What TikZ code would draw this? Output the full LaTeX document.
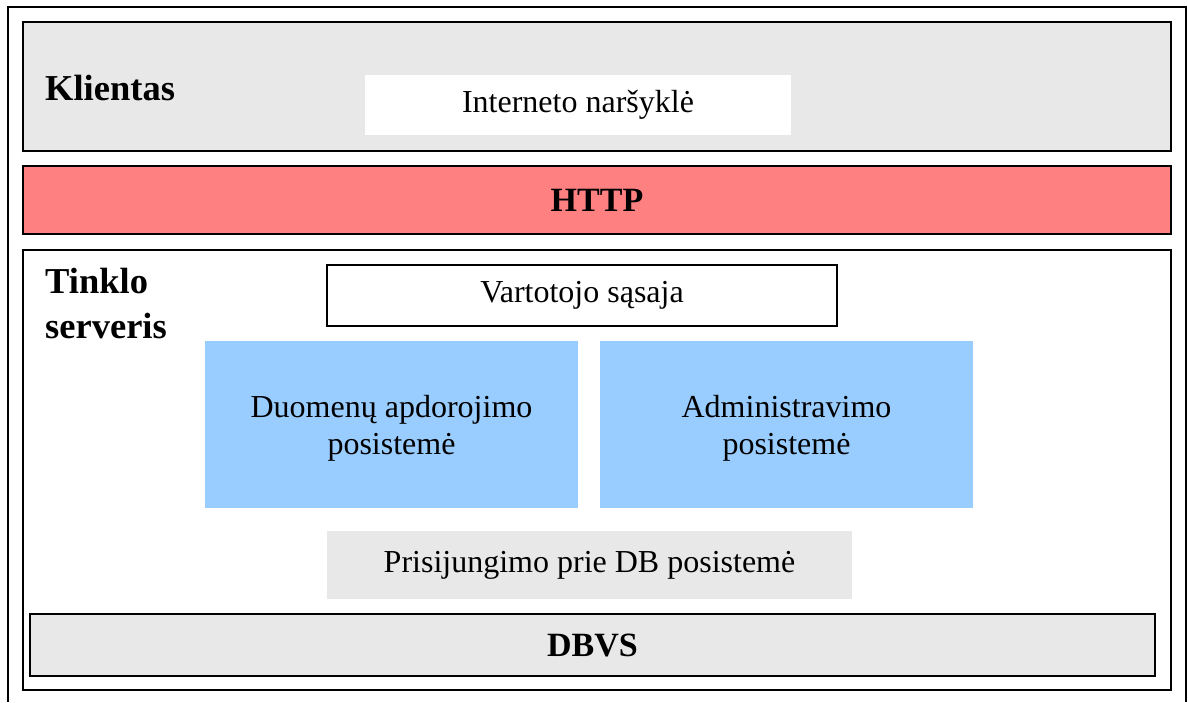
\documentclass[tikz,border=0pt]{standalone}
\usepackage{fontspec}
\setmainfont{Liberation Serif}
\usepackage{tikz}
\definecolor{layer_grey}{RGB}{232, 232, 232}
\definecolor{http_red}{RGB}{255, 128, 128}
\definecolor{sub_blue}{RGB}{153, 204, 255}
\tikzstyle{layer}=[rectangle,fill=layer_grey,draw=black,
  line width=1.5pt,inner sep=0pt,font=\fontsize{34}{40}\selectfont\bfseries]
\tikzstyle{part}=[rectangle,inner sep=0pt,align=center,
  font=\fontsize{32}{37}\selectfont]
\tikzstyle{title}=[inner sep=0pt,align=left,
  font=\fontsize{36.5}{45}\selectfont\bfseries]
\tikzstyle{frame}=[line width=1.5pt,draw=black]
\tikzstyle{none}=[]

\begin{document}
\begin{tikzpicture}[x=1pt, y=-1pt]
        \useasboundingbox (0, 0) rectangle (1188, 702);
        \draw [style=frame] (8, 702) -- (8, 7) -- (1186, 7) -- (1186, 702);
        \node [style=layer, minimum width=1148pt, minimum height=129pt] (klientas) at (597, 86.5) {};
        \node [style=layer, fill=http_red, minimum width=1148pt, minimum height=68pt] (http) at (597, 200) {HTTP};
        \node [style=layer, fill=white, minimum width=1148pt, minimum height=440pt] (serveris) at (597, 470) {};
        \node [style=title, anchor=base west] (klientas_t) at (45, 100) {Klientas};
        \node [style=title, anchor=base west] (serveris_t) at (45, 338) {Tinklo\\serveris};
        \node [style=part, fill=white, minimum width=426pt, minimum height=60pt] (narsykle) at (578, 105) {Interneto naršyklė};
        \node [style=part, fill=white, draw=black, line width=1.5pt, minimum width=510pt, minimum height=61pt] (sasaja) at (582, 295.5) {Vartotojo sąsaja};
        \node [style=part, fill=sub_blue, minimum width=373pt, minimum height=167pt, text depth=-4pt] (duomenys) at (391.5, 424.5) {Duomenų apdorojimo\\posistemė};
        \node [style=part, fill=sub_blue, minimum width=373pt, minimum height=167pt, text depth=-4pt] (admin) at (786.5, 424.5) {Administravimo\\posistemė};
        \node [style=part, fill=layer_grey, minimum width=525pt, minimum height=68pt] (prisijungimas) at (589.5, 565) {Prisijungimo prie DB posistemė};
        \node [style=layer, minimum width=1125pt, minimum height=62pt] (dbvs) at (592.5, 645) {DBVS};
    \end{tikzpicture}
\end{document}
